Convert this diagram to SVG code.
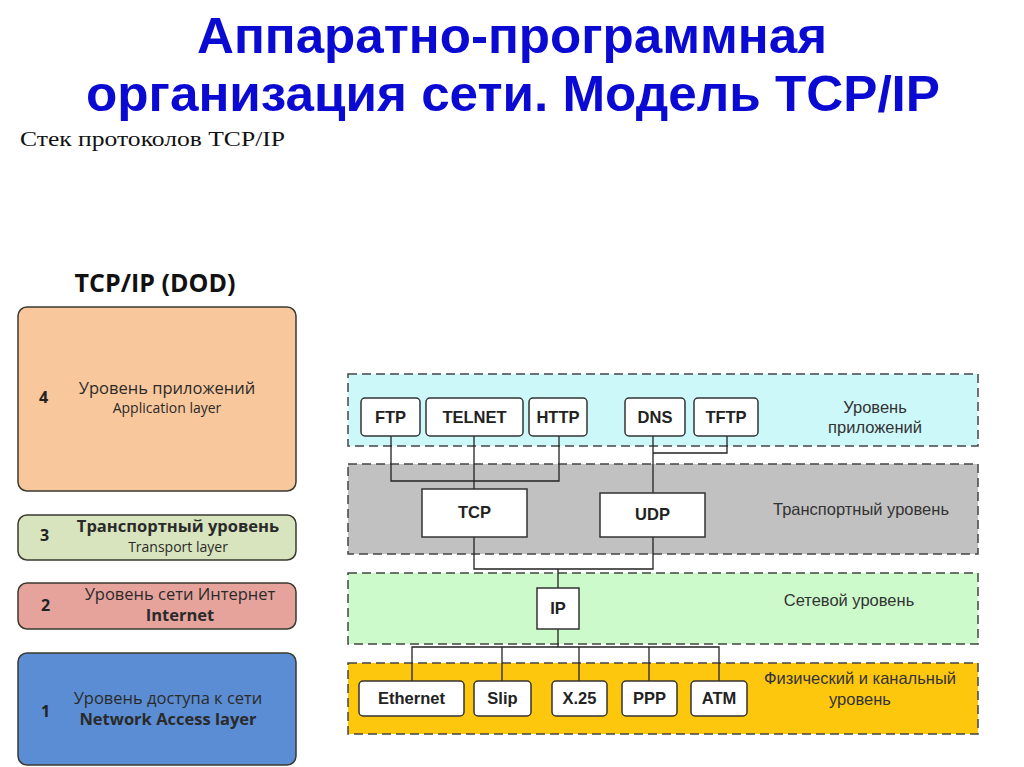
<svg xmlns="http://www.w3.org/2000/svg" width="1024" height="767" viewBox="0 0 1024 767">
<defs>
<style>
.title{font-family:"Liberation Sans",Arial,sans-serif;font-weight:bold;font-size:50px;fill:#0a0ad2;text-anchor:middle}
.sub{font-family:"Liberation Serif","Times New Roman",serif;font-size:21px;fill:#111}
.lbox{stroke:#3a3a30;stroke-width:1.5}
.num{font-family:"Open Sans","Liberation Sans",sans-serif;font-weight:bold;font-size:16px;fill:#222}
.lt{font-family:"Open Sans","Liberation Sans",sans-serif;font-size:16.5px;fill:#2a2a2a;text-anchor:middle}
.ls{font-family:"Open Sans","Liberation Sans",sans-serif;font-size:14px;fill:#2a2a2a;text-anchor:middle}
.band{stroke:#444;stroke-width:1.5;stroke-dasharray:9 5}
.pb{fill:#fff;stroke:#333;stroke-width:1.5}
.pt{font-family:"Liberation Sans",Arial,sans-serif;font-weight:bold;font-size:16.5px;fill:#222;text-anchor:middle}
.bl{font-family:"Liberation Sans",Arial,sans-serif;font-size:16.5px;fill:#333;text-anchor:middle}
.conn{fill:none;stroke:#222;stroke-width:1.3}
</style>
</defs>
<rect width="1024" height="767" fill="#fff"/>
<g id="title">
<text class="title" x="512" y="53" textLength="630" lengthAdjust="spacingAndGlyphs">Аппаратно-программная</text>
<text class="title" x="513" y="111" textLength="854" lengthAdjust="spacingAndGlyphs">организация сети. Модель TCP/IP</text>
<text class="sub" x="20" y="146" textLength="265" lengthAdjust="spacingAndGlyphs">Стек протоколов TCP/IP</text>
</g>
<g id="dod-head"><text x="155" y="292" font-family="'Open Sans','Liberation Sans',sans-serif" font-weight="bold" font-size="25" fill="#111" text-anchor="middle">TCP/IP (DOD)</text></g>
<g id="layer4">
<rect class="lbox" x="18" y="307" width="278" height="184" rx="9" fill="#f8c79c"/>
<text class="num" x="39" y="403">4</text>
<text class="lt" x="167" y="394">Уровень приложений</text>
<text class="ls" x="167" y="413">Application layer</text>
</g>
<g id="layer3">
<rect class="lbox" x="18" y="515" width="278" height="45" rx="9" fill="#d7e4bd"/>
<text class="num" x="40" y="541">3</text>
<text class="lt" x="178" y="532" font-weight="bold" fill="#222" font-size="16px">Транспортный уровень</text>
<text class="ls" x="178" y="552">Transport layer</text>
</g>
<g id="layer2">
<rect class="lbox" x="18" y="583" width="278" height="46" rx="9" fill="#e5a39c"/>
<text class="num" x="41" y="611">2</text>
<text class="lt" x="180" y="600" font-size="16px">Уровень сети Интернет</text>
<text class="lt" x="180" y="621" font-weight="bold" fill="#222" font-size="15.5px">Internet</text>
</g>
<g id="layer1">
<rect class="lbox" x="18" y="653" width="278" height="112" rx="9" fill="#5b8dd4"/>
<text class="num" x="41" y="717" fill="#111">1</text>
<text class="lt" x="168" y="704" fill="#142060" font-size="16.5px">Уровень доступа к сети</text>
<text class="lt" x="168" y="725" font-weight="bold" fill="#111a40" font-size="16px">Network Access layer</text>
</g>
<g id="band-app">
<rect class="band" x="348" y="374" width="630" height="72" fill="#cdf8fa"/>
<text class="bl" x="875" y="413">Уровень</text>
<text class="bl" x="875" y="433">приложений</text>
</g>
<g id="band-transport">
<rect class="band" x="348" y="464" width="630" height="90" fill="#c1c1c1"/>
<text class="bl" x="861" y="515">Транспортный уровень</text>
</g>
<g id="band-network">
<rect class="band" x="348" y="573" width="630" height="71" fill="#ccfacb"/>
<text class="bl" x="849" y="606">Сетевой уровень</text>
</g>
<g id="band-phys">
<rect class="band" x="348" y="663" width="630" height="71" fill="#fdc70e"/>
<text class="bl" x="860" y="684">Физический и канальный</text>
<text class="bl" x="860" y="705">уровень</text>
</g>
<g id="connectors">
<polyline class="conn" points="391,436 391,481 559,481 559,436"/>
<line class="conn" x1="474" y1="436" x2="474" y2="489"/>
<line class="conn" x1="653" y1="436" x2="653" y2="493"/>
<polyline class="conn" points="727,436 727,453 653,453"/>
<polyline class="conn" points="474,537 474,569 653,569 653,537"/>
<line class="conn" x1="558" y1="569" x2="558" y2="588"/>
<line class="conn" x1="558" y1="629" x2="558" y2="647"/>
<polyline class="conn" points="412,681 412,647 719,647 719,681"/>
<line class="conn" x1="502" y1="647" x2="502" y2="681"/>
<line class="conn" x1="579" y1="647" x2="579" y2="681"/>
<line class="conn" x1="649" y1="647" x2="649" y2="681"/>
</g>
<g id="ftp"><rect class="pb" x="361" y="398" width="59" height="38" rx="4"/><text class="pt" x="390.5" y="423">FTP</text></g>
<g id="telnet"><rect class="pb" x="426" y="398" width="97" height="38" rx="4"/><text class="pt" x="474.5" y="423">TELNET</text></g>
<g id="http"><rect class="pb" x="529" y="398" width="58" height="38" rx="4"/><text class="pt" x="558" y="423">HTTP</text></g>
<g id="dns"><rect class="pb" x="625" y="398" width="60" height="38" rx="4"/><text class="pt" x="655" y="423">DNS</text></g>
<g id="tftp"><rect class="pb" x="694" y="398" width="64" height="38" rx="4"/><text class="pt" x="726" y="423">TFTP</text></g>
<g id="tcp"><rect class="pb" x="422" y="489" width="105" height="48"/><text class="pt" x="474.5" y="518">TCP</text></g>
<g id="udp"><rect class="pb" x="600" y="493" width="105" height="44"/><text class="pt" x="652.5" y="520">UDP</text></g>
<g id="ip"><rect class="pb" x="537" y="588" width="42" height="41"/><text class="pt" x="558" y="614">IP</text></g>
<g id="ethernet"><rect class="pb" x="359" y="681" width="105" height="35" rx="4"/><text class="pt" x="411.5" y="704">Ethernet</text></g>
<g id="slip"><rect class="pb" x="474" y="681" width="57" height="35" rx="4"/><text class="pt" x="502.5" y="704">Slip</text></g>
<g id="x25"><rect class="pb" x="552" y="681" width="55" height="35" rx="4"/><text class="pt" x="579.5" y="704">X.25</text></g>
<g id="ppp"><rect class="pb" x="622" y="681" width="55" height="35" rx="4"/><text class="pt" x="649.5" y="704">PPP</text></g>
<g id="atm"><rect class="pb" x="691" y="681" width="56" height="35" rx="4"/><text class="pt" x="719" y="704">ATM</text></g>
</svg>
